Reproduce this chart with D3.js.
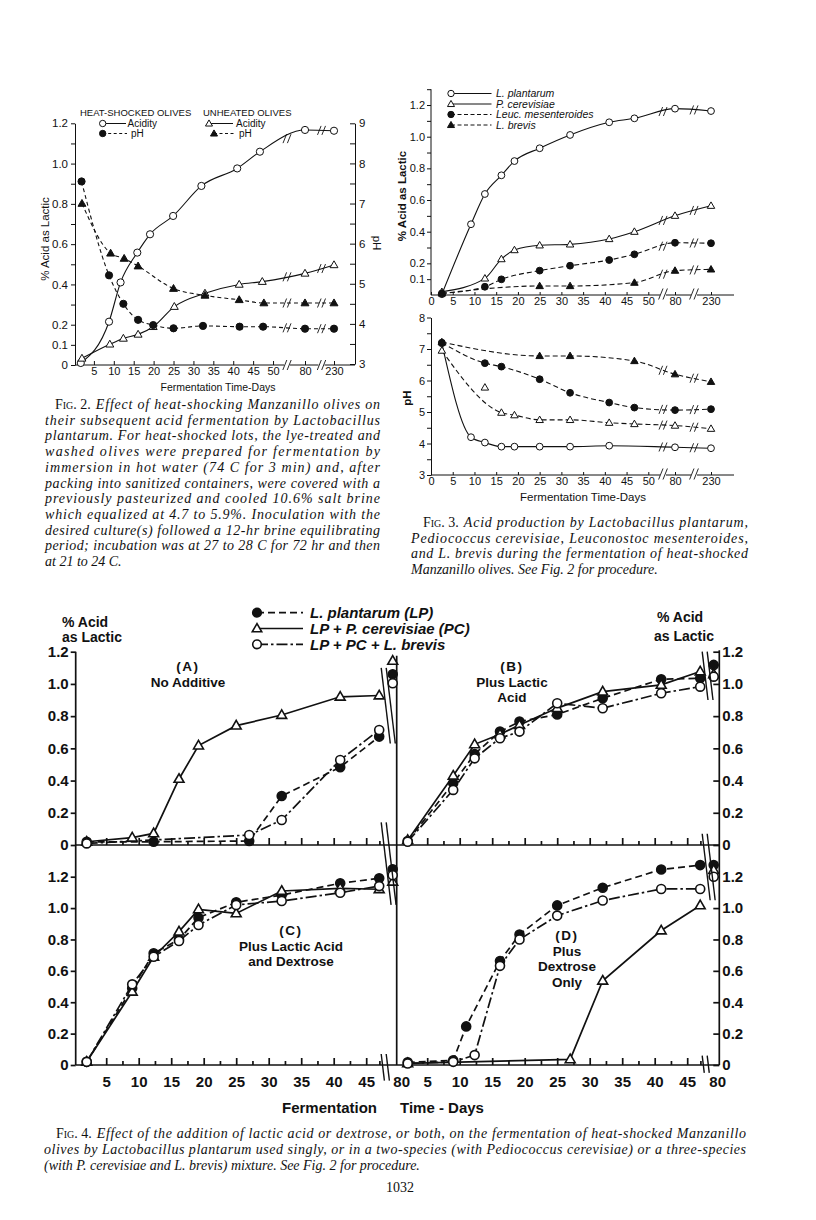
<!DOCTYPE html>
<html>
<head>
<meta charset="utf-8">
<title>Figs 2-4, heat-shocked olives</title>
<script src="https://cdn.jsdelivr.net/npm/d3@7"></script>
<style>
  body { margin: 0; background: #fff; }
</style>
</head>
<body>
<svg id="page" width="816" height="1220"></svg>
<script>
// ---------------- Fig. 2 data ----------------
const fig2HeatAcidDays   = [1.7, 8.8, 11.7, 15.9, 19.1, 24.9, 32, 41, 46.7, 80, 230];
const fig2HeatAcid       = [0.01, 0.215, 0.41, 0.558, 0.649, 0.74, 0.889, 0.976, 1.059, 1.167, 1.163];
const fig2UnheatAcidDays = [2, 9, 12.4, 16.1, 19.9, 25.2, 32.9, 41.5, 47.3, 80, 230];
const fig2UnheatAcid     = [0.033, 0.103, 0.132, 0.152, 0.19, 0.29, 0.356, 0.40, 0.414, 0.455, 0.497];
const fig2HeatPhDays     = [1.9, 8.8, 12.4, 16.1, 19.9, 25, 32.4, 41.6, 47.5, 80, 230];
const fig2HeatPh         = [7.55, 5.21, 4.50, 4.10, 3.97, 3.89, 3.95, 3.93, 3.93, 3.88, 3.88];
const fig2UnheatPhDays   = [2, 9.2, 12.6, 16.1, 25, 32.9, 41.5, 47.7, 80, 230];
const fig2UnheatPh       = [7.0, 5.76, 5.63, 5.44, 4.88, 4.71, 4.60, 4.52, 4.52, 4.52];
const fig2AcidLabels = [0, 0.1, 0.2, 0.4, 0.6, 0.8, 1.0, 1.2];
const fig2PhLabels   = [3, 4, 5, 6, 7, 8, 9];
const fig2DayLabels  = [5, 10, 15, 20, 25, 30, 35, 40, 45, 50, 80, 230];

// ---------------- Fig. 3 data ----------------
const fig3Days    = [2.5, 9.2, 12.4, 16.2, 19.2, 25, 32, 41, 46.8, 80, 230];
const fig3LpAcid  = [0.005, 0.447, 0.638, 0.756, 0.846, 0.927, 1.011, 1.091, 1.116, 1.177, 1.162];
const fig3PcAcid  = [0.02, null, 0.105, 0.227, 0.284, 0.314, 0.32, 0.354, 0.40, 0.501, 0.564];
const fig3LmAcid  = [0.01, null, 0.052, 0.099, null, 0.154, 0.185, 0.221, 0.257, 0.33, 0.327];
const fig3LbAcid  = [0.01, null, null, null, null, 0.057, 0.057, null, 0.078, 0.154, 0.162];
const fig3LpPh    = [7.18, 4.2, 4.03, 3.9, 3.9, 3.9, 3.9, 3.93, null, 3.88, 3.85];
const fig3PcPh    = [6.95, null, 5.78, 4.98, 4.9, 4.75, 4.75, 4.66, 4.62, 4.57, 4.47];
const fig3LmPh    = [7.2, null, 6.55, 6.44, null, 6.04, 5.61, 5.3, 5.14, 5.06, 5.09];
const fig3LbPh    = [7.22, null, null, null, null, 6.78, 6.78, null, 6.62, 6.2, 5.96];
const fig3PcPhOffCurve = [12.4];   // plotted point the fitted curve does not pass through
const fig3AcidLabels = [0.1, 0.2, 0.4, 0.6, 0.8, 1.0, 1.2];
const fig3PhLabels   = [3, 4, 5, 6, 7, 8];
const fig3DayLabels  = [0, 5, 10, 15, 20, 25, 30, 35, 40, 45, 50, 80, 230];
const fig3Names = ['L. plantarum', 'P. cerevisiae', 'Leuc. mesenteroides', 'L. brevis'];

// ---------------- Fig. 4 data ----------------
const fig4Days = [2, 9, 11, 12.3, 16.2, 19.2, 25, 27, 32, 41, 47, 80];
const aLP  = [0.02, null, null, 0.02, null, null, null, 0.025, 0.304, 0.483, 0.673, 1.06];
const aPC  = [0.02, 0.046, null, 0.072, 0.41, 0.617, 0.741, null, 0.807, 0.92, 0.928, 1.143];
const aLPL = [0.01, null, null, null, null, null, null, 0.062, 0.155, 0.528, 0.714, 1.004];
const bLP  = [0.025, 0.383, null, 0.565, 0.704, 0.766, 0.81, null, 0.911, 1.029, 1.035, 1.118];
const bPC  = [0.03, 0.43, null, 0.625, 0.687, 0.745, 0.85, null, 0.952, 0.994, 1.077, 1.06];
const bLPL = [0.02, 0.342, null, 0.538, 0.663, 0.704, 0.88, null, 0.849, 0.942, 0.983, 1.045];
const cLP  = [0.02, 0.489, null, 0.712, 0.80, 0.939, 1.037, null, 1.083, 1.158, 1.19, 1.247];
const cPC  = [0.02, 0.467, null, 0.69, 0.85, 0.992, 0.966, null, 1.109, 1.126, 1.12, 1.168];
const cLPL = [0.02, 0.514, null, 0.69, 0.79, 0.892, 1.02, null, 1.045, 1.098, 1.14, 1.21];
const dLP  = [0.017, 0.03, 0.246, null, 0.663, 0.832, 1.017, null, 1.13, 1.246, 1.274, 1.274];
const dPC  = [0.01, null, null, null, null, null, null, 0.036, 0.537, 0.857, 1.017, 1.242];
const dLPL = [0.01, 0.02, null, 0.063, 0.632, 0.80, 0.952, null, 1.048, 1.122, 1.122, 1.20];
const fig4AcidLabels = [0, 0.2, 0.4, 0.6, 0.8, 1.0, 1.2];
const fig4DayLabels  = [5, 10, 15, 20, 25, 30, 35, 40, 45];
const fig4Names = ['L. plantarum (LP)', 'LP + P. cerevisiae (PC)', 'LP + PC + L. brevis'];

const FONT = "'Liberation Sans', Arial, sans-serif";
const SERIF = "'Liberation Serif', 'Times New Roman', serif";
const ink = '#111';
const svg = d3.select('#page');
svg.append('rect').attr('width', 816).attr('height', 1220).attr('fill', '#fff');

// marker: oc open circle, fc filled circle, ot open triangle, ft filled triangle
function mark(g, kind, x, y, s, sw) {
    if (kind === 'oc' || kind === 'fc') {
        g.append('circle').attr('cx', x).attr('cy', y).attr('r', s)
            .attr('fill', kind === 'fc' ? ink : '#fff').attr('stroke', ink).attr('stroke-width', sw);
    } else {
        const a = s * 2.2;
        g.append('path').attr('d', d3.symbol(d3.symbolTriangle, Math.sqrt(3) / 4 * a * a)())
            .attr('transform', `translate(${x},${y + 0.5})`)
            .attr('fill', kind === 'ft' ? ink : '#fff').attr('stroke', ink).attr('stroke-width', sw);
    }
}

function slash(g, x, y, h, sw) {
    [-2.2, 2.2].forEach(o => {
        g.append('line').attr('x1', x + o - h * 0.2).attr('y1', y + h / 2)
            .attr('x2', x + o + h * 0.2).attr('y2', y - h / 2)
            .attr('stroke', ink).attr('stroke-width', sw);
    });
}

// y of a polyline at pixel x (for placing break marks on the lines)
function yAt(pts, bx) {
    for (let i = 0; i < pts.length - 1; i++) {
        if (pts[i][0] <= bx && pts[i + 1][0] >= bx) {
            const t = (bx - pts[i][0]) / (pts[i + 1][0] - pts[i][0]);
            return pts[i][1] + t * (pts[i + 1][1] - pts[i][1]);
        }
    }
    return null;
}

function styleAxis(g, size, weight, sw) {
    g.attr('font-family', FONT).attr('font-size', size).attr('font-weight', weight);
    g.selectAll('line').attr('stroke', ink).attr('stroke-width', sw);
    g.selectAll('path.domain').attr('stroke', ink).attr('stroke-width', sw);
    g.selectAll('text').attr('fill', ink);
}

// smooth curve + markers, returns pixel points
function curveSeries(g, xs, ys, days, vals, kind, dash, opt) {
    const pts = [], linePts = [];
    days.forEach((d, i) => {
        if (vals[i] == null) return;
        const p = [xs(d), ys(vals[i])];
        pts.push(p);
        if (!(opt.skip || []).includes(d)) linePts.push(p);
    });
    g.append('path').attr('d', d3.line().curve(d3.curveMonotoneX)(linePts))
        .attr('fill', 'none').attr('stroke', ink).attr('stroke-width', opt.sw)
        .attr('stroke-dasharray', dash);
    opt.breaks.forEach(bx => {
        const y = yAt(linePts, bx);
        if (y != null) slash(g, bx, y, 9, 0.9);
    });
    pts.forEach(p => mark(opt.marks, kind, p[0], p[1], opt.r, 1));
    return pts;
}

// =============== FIG. 2 ===============
(function () {
    const g = svg.append('g');
    const x2 = d3.scaleLinear().domain([0, 52, 80, 230]).range([74, 281, 305, 334]);
    const yA = d3.scaleLinear().domain([0, 1.2]).range([365, 123.3]);
    const yP = d3.scaleLinear().domain([3, 9]).range([364, 123.3]);
    const breaks = [287, 321.5];

    const left = g.append('g').attr('transform', 'translate(75,0)')
        .call(d3.axisLeft(yA).tickValues(d3.range(0, 1.25, 0.1)).tickSize(4).tickSizeOuter(0).tickPadding(3)
            .tickFormat(d => fig2AcidLabels.some(v => Math.abs(v - d) < 1e-6) ? (d === 0 ? '0' : d3.format('.1f')(d)) : ''));
    styleAxis(left, 11.5, 'normal', 1);

    const right = g.append('g').attr('transform', 'translate(355,0)')
        .call(d3.axisRight(yP).tickValues(d3.range(3, 9.01, 0.5)).tickSize(-5).tickSizeOuter(0).tickPadding(4)
            .tickFormat(d => fig2PhLabels.includes(d) ? d : ''));
    styleAxis(right, 11.5, 'normal', 1);

    const bottom = g.append('g').attr('transform', 'translate(0,365)')
        .call(d3.axisBottom(x2).tickValues(fig2DayLabels).tickSize(-4).tickSizeOuter(0));
    bottom.select('.domain').remove();
    styleAxis(bottom, 11, 'normal', 1);
    bottom.selectAll('text').attr('y', 9.5).attr('dy', null);
    [[75, breaks[0] - 3], [breaks[0] + 3, breaks[1] - 3], [breaks[1] + 3, 355]].forEach(s => {
        g.append('line').attr('x1', s[0]).attr('x2', s[1]).attr('y1', 365).attr('y2', 365)
            .attr('stroke', ink).attr('stroke-width', 1);
    });
    breaks.forEach(b => slash(g, b, 365, 10, 0.9));

    const lines = g.append('g'), marks = g.append('g');
    const opt = { sw: 1.1, r: 3.6, breaks: breaks, marks: marks };
    curveSeries(lines, x2, yA, fig2HeatAcidDays, fig2HeatAcid, 'oc', null, opt);
    curveSeries(lines, x2, yA, fig2UnheatAcidDays, fig2UnheatAcid, 'ot', null, opt);
    curveSeries(lines, x2, yP, fig2HeatPhDays, fig2HeatPh, 'fc', '4,3', opt);
    curveSeries(lines, x2, yP, fig2UnheatPhDays, fig2UnheatPh, 'ft', '4,3', opt);

    // legend
    const lg = g.append('g').attr('font-family', FONT).attr('font-size', 9.5).attr('fill', ink);
    lg.append('text').attr('x', 80).attr('y', 116).text('HEAT-SHOCKED OLIVES');
    lg.append('text').attr('x', 203).attr('y', 116).text('UNHEATED OLIVES');
    const rows = [
        { kind: 'oc', x: 102.7, y: 123.5, x2: 126, dash: null, label: 'Acidity', tx: 127.5 },
        { kind: 'fc', x: 102.7, y: 133.5, x2: 127, dash: '3,2.5', label: 'pH', tx: 131 },
        { kind: 'ot', x: 209, y: 123.5, x2: 233, dash: null, label: 'Acidity', tx: 236 },
        { kind: 'ft', x: 214, y: 133.5, x2: 236, dash: '3,2.5', label: 'pH', tx: 239 }
    ];
    rows.forEach(r => {
        lg.append('line').attr('x1', r.x).attr('x2', r.x2).attr('y1', r.y).attr('y2', r.y)
            .attr('stroke', ink).attr('stroke-width', 1).attr('stroke-dasharray', r.dash);
        mark(lg, r.kind, r.x, r.y, 3.2, 1);
        lg.append('text').attr('x', r.tx).attr('y', r.y + 3.5).attr('font-size', 10).text(r.label);
    });

    const lab = g.append('g').attr('font-family', FONT).attr('font-size', 11.5).attr('fill', ink);
    lab.append('text').attr('transform', 'translate(49,239) rotate(-90)').attr('text-anchor', 'middle')
        .text('% Acid as Lactic');
    lab.append('text').attr('transform', 'translate(373,243) rotate(90)').attr('text-anchor', 'middle')
        .text('pH');
    lab.append('text').attr('x', 218).attr('y', 390.5).attr('text-anchor', 'middle').attr('font-size', 10.5)
        .text('Fermentation Time-Days');
})();

// =============== FIG. 3 ===============
(function () {
    const g = svg.append('g');
    const x3 = d3.scaleLinear().domain([0, 52, 80, 230]).range([431, 657, 675, 711]);
    const yA = d3.scaleLinear().domain([0, 1.3]).range([295, 89.2]);
    const yP = d3.scaleLinear().domain([3, 8]).range([475, 317.5]);
    const breaks = [663, 694];

    const left = g.append('g').attr('transform', 'translate(431,0)')
        .call(d3.axisLeft(yA).tickValues(d3.range(0.1, 1.35, 0.1)).tickSize(4).tickSizeOuter(0).tickPadding(2)
            .tickFormat(d => fig3AcidLabels.some(v => Math.abs(v - d) < 1e-6) ? d3.format('.1f')(d) : ''));
    styleAxis(left, 11, 'normal', 1);
    left.select('.domain').attr('d', `M0,${yA(0)}V${yA(1.3)}`);

    const leftP = g.append('g').attr('transform', 'translate(431,0)')
        .call(d3.axisLeft(yP).tickValues(d3.range(3, 8.01, 0.5)).tickSize(4).tickSizeOuter(0).tickPadding(2)
            .tickFormat(d => fig3PhLabels.includes(d) ? d : ''));
    styleAxis(leftP, 11, 'normal', 1);

    [295, 475].forEach(yy => {
        const b = g.append('g').attr('transform', `translate(0,${yy})`)
            .call(d3.axisBottom(x3).tickValues(fig3DayLabels).tickSize(-3).tickSizeOuter(0));
        b.select('.domain').remove();
        styleAxis(b, 11, 'normal', 1);
        b.selectAll('text').attr('y', 10).attr('dy', null);
        [[431, breaks[0] - 3], [breaks[0] + 3, breaks[1] - 3], [breaks[1] + 3, 734]].forEach(s => {
            g.append('line').attr('x1', s[0]).attr('x2', s[1]).attr('y1', yy).attr('y2', yy)
                .attr('stroke', ink).attr('stroke-width', 1);
        });
        breaks.forEach(bx => slash(g, bx, yy - 1, 11, 0.9));
    });

    const lines = g.append('g'), marks = g.append('g');
    const opt = { sw: 1.1, r: 3.4, breaks: breaks, marks: marks };
    const kinds = ['oc', 'ot', 'fc', 'ft'];
    const dashes = [null, null, '5,3', '5,3'];
    [fig3LpAcid, fig3PcAcid, fig3LmAcid, fig3LbAcid].forEach((v, i) =>
        curveSeries(lines, x3, yA, fig3Days, v, kinds[i], dashes[i], opt));
    curveSeries(lines, x3, yP, fig3Days, fig3LpPh, 'oc', null, opt);
    curveSeries(lines, x3, yP, fig3Days, fig3PcPh, 'ot', '5,3', Object.assign({}, opt, { skip: fig3PcPhOffCurve }));
    curveSeries(lines, x3, yP, fig3Days, fig3LmPh, 'fc', '5,3', opt);
    curveSeries(lines, x3, yP, fig3Days, fig3LbPh, 'ft', '5,3', opt);

    // legend
    const lg = g.append('g').attr('font-family', FONT).attr('font-size', 10.5).attr('font-style', 'italic').attr('fill', ink);
    fig3Names.forEach((n, i) => {
        const y = 93.5 + i * 10.5;
        lg.append('line').attr('x1', 451).attr('x2', 491.5).attr('y1', y).attr('y2', y)
            .attr('stroke', ink).attr('stroke-width', 1).attr('stroke-dasharray', dashes[i] ? '4,2.5' : null);
        mark(lg, kinds[i], 451, y, 3.2, 1);
        lg.append('text').attr('x', 496).attr('y', y + 3.5).text(n);
    });

    const lab = g.append('g').attr('font-family', FONT).attr('font-size', 11.5).attr('font-weight', 'bold').attr('fill', ink);
    lab.append('text').attr('transform', 'translate(406,196) rotate(-90)').attr('text-anchor', 'middle')
        .text('% Acid as Lactic');
    lab.append('text').attr('transform', 'translate(411,398) rotate(-90)').attr('text-anchor', 'middle')
        .text('pH');
    lab.append('text').attr('x', 583).attr('y', 500.5).attr('text-anchor', 'middle').attr('font-weight', 'normal')
        .attr('font-size', 11.5).text('Fermentation Time-Days');
})();

// =============== FIG. 4 ===============
(function () {
    const g = svg.append('g');
    const colX = [75.7, 396.7];
    const rightX = 719.3;
    const x4 = d3.scaleLinear().domain([0, 47, 80]).range([-2, 303.5, 317]);
    const rowY = [
        d3.scaleLinear().domain([0, 1.2]).range([845, 651.7]),
        d3.scaleLinear().domain([0, 1.2]).range([1065, 876.7])
    ];
    const panels = [
        { col: 0, row: 0, LP: aLP, PC: aPC, LPL: aLPL, title: ['(A)', 'No Additive'], tx: 188, ty: 671, lab80: 9 },
        { col: 1, row: 0, LP: bLP, PC: bPC, LPL: bLPL, title: ['(B)', 'Plus Lactic', 'Acid'], tx: 512, ty: 671, lab80: 4 },
        { col: 0, row: 1, LP: cLP, PC: cPC, LPL: cLPL, title: ['(C)', 'Plus Lactic Acid', 'and Dextrose'], tx: 291, ty: 935, lab80: 9 },
        { col: 1, row: 1, LP: dLP, PC: dPC, LPL: dLPL, title: ['(D)', 'Plus', 'Dextrose', 'Only'], tx: 567, ty: 940, lab80: 4 }
    ];
    const sw = 1.7;
    const styles = {
        LP:  { kind: 'fc', dash: '7,4' },
        PC:  { kind: 'ot', dash: null },
        LPL: { kind: 'oc', dash: '11,3,2.5,3' }
    };

    // frame lines
    const yTop = rowY[0](1.2), yBot = rowY[1](0);
    [[colX[0], yTop], [colX[1], yTop + 4], [rightX, rowY[0](1.2) - 1.5]].forEach(([x, y0]) => {
        g.append('line').attr('x1', x).attr('x2', x).attr('y1', y0).attr('y2', yBot)
            .attr('stroke', ink).attr('stroke-width', sw);
    });
    [rowY[0](0), rowY[1](0)].forEach(y => {
        g.append('line').attr('x1', colX[0]).attr('x2', rightX).attr('y1', y).attr('y2', y)
            .attr('stroke', ink).attr('stroke-width', sw);
    });

    // y axes
    rowY.forEach((ys) => {
        const la = g.append('g').attr('transform', `translate(${colX[0]},0)`)
            .call(d3.axisLeft(ys).tickValues(fig4AcidLabels).tickSize(5).tickSizeOuter(0).tickPadding(2)
                .tickFormat(d => d === 0 ? '0' : d3.format('.1f')(d)));
        la.select('.domain').remove();
        styleAxis(la, 15, 'bold', sw);
        const ra = g.append('g').attr('transform', `translate(${rightX},0)`)
            .call(d3.axisRight(ys).tickValues(fig4AcidLabels).tickSize(-6).tickSizeOuter(0).tickPadding(3)
                .tickFormat(d => d === 0 ? '0' : d3.format('.1f')(d)));
        ra.select('.domain').remove();
        styleAxis(ra, 15, 'bold', sw);
    });

    panels.forEach(p => {
        const pg = g.append('g').attr('transform', `translate(${colX[p.col]},0)`);
        const ys = rowY[p.row];
        // x ticks every 2.5 days
        const xa = pg.append('g').attr('transform', `translate(0,${ys(0)})`)
            .call(d3.axisBottom(x4).tickValues(d3.range(2.5, 47.6, 2.5)).tickSize(-7).tickSizeOuter(0)
                .tickFormat(d => (p.row === 1 && d % 5 === 0) ? d : ''));
        xa.select('.domain').remove();
        styleAxis(xa, 15, 'bold', sw);
        xa.selectAll('.tick').filter(d => d % 5 !== 0).select('line').attr('y2', -4);
        xa.selectAll('text').attr('y', 21.5).attr('dy', null);
        if (p.row === 1) {
            pg.append('text').attr('x', x4(80) + p.lab80).attr('y', ys(0) + 21.5).attr('text-anchor', 'middle')
                .attr('font-family', FONT).attr('font-size', 15).attr('font-weight', 'bold').attr('fill', ink)
                .text('80');
        }
        const lines = pg.append('g'), marks = pg.append('g');
        ['LP', 'PC', 'LPL'].forEach(key => {
            const vals = p[key];
            const pts = [];
            fig4Days.forEach((d, i) => { if (vals[i] != null) pts.push([x4(d), ys(vals[i]), d]); });
            const linePts = pts.filter(q => q[2] < 60).map(q => [q[0], q[1]]);
            lines.append('path').attr('d', d3.line()(linePts))
                .attr('fill', 'none').attr('stroke', ink).attr('stroke-width', sw)
                .attr('stroke-dasharray', styles[key].dash);
            pts.forEach(q => mark(marks, styles[key].kind, q[0], q[1], 4.5, 1.6));
        });
        const tg = pg.append('g').attr('font-family', FONT).attr('font-size', 13.5).attr('font-weight', 'bold')
            .attr('fill', ink).attr('text-anchor', 'middle');
        p.title.forEach((t, i) => {
            tg.append('text').attr('x', p.tx - colX[p.col]).attr('y', p.ty + i * 15.5)
                .attr('letter-spacing', i === 0 ? 1.5 : 0).text(t);
        });
    });

    // break marks through the frame
    const spans = [
        [0, rowY[0](1.1), rowY[0](0.63)], [0, rowY[0](0.14), rowY[1](1.02)], [0, rowY[1](0.07), rowY[1](-0.1)],
        [1, rowY[0](1.2), rowY[0](0.9)], [1, rowY[0](0.07), rowY[1](1.05)], [1, rowY[1](0.06), rowY[1](-0.05)]
    ];
    spans.forEach(([c, y0, y1]) => {
        const bx = colX[c] + x4(47) + 2;
        [0, 5].forEach(o => {
            g.append('line').attr('x1', bx + o).attr('y1', y0).attr('x2', bx + o + (y1 - y0) * 0.12).attr('y2', y1)
                .attr('stroke', ink).attr('stroke-width', 1.4);
        });
    });

    // legend
    const lg = g.append('g');
    ['LP', 'PC', 'LPL'].forEach((k, i) => {
        const y = 612.7 + i * 15.8;
        lg.append('line').attr('x1', 257).attr('x2', 303).attr('y1', y).attr('y2', y)
            .attr('stroke', ink).attr('stroke-width', sw).attr('stroke-dasharray', styles[k].dash);
        mark(lg, styles[k].kind, 257, y, 4.3, 1.6);
        lg.append('text').attr('x', 310).attr('y', y + 5.5).attr('font-family', FONT).attr('font-size', 15)
            .attr('font-weight', 'bold').attr('font-style', 'italic').attr('fill', ink).text(fig4Names[i]);
    });

    const lab = g.append('g').attr('font-family', FONT).attr('font-size', 14).attr('font-weight', 'bold').attr('fill', ink);
    lab.append('text').attr('x', 62).attr('y', 626.5).text('% Acid');
    lab.append('text').attr('x', 62).attr('y', 642).text('as Lactic');
    lab.append('text').attr('x', 657).attr('y', 621.5).text('% Acid');
    lab.append('text').attr('x', 654).attr('y', 641).text('as Lactic');
    lab.append('text').attr('x', 282).attr('y', 1113).attr('font-size', 15).text('Fermentation');
    lab.append('text').attr('x', 400).attr('y', 1113).attr('font-size', 15).text('Time - Days');
})();

// =============== captions ===============
function caption(prefix, lines, x0, x1, y0, dy, indent) {
    const g = svg.append('g').attr('font-family', SERIF).attr('font-size', 14).attr('fill', ink);
    lines.forEach((t, i) => {
        let x = x0;
        if (i === 0) {
            const p = g.append('text').attr('x', x0 + indent).attr('y', y0).style('font-variant', 'small-caps').text(prefix);
            x = x0 + indent + p.node().getComputedTextLength() + 5;
        }
        const txt = g.append('text').attr('x', x).attr('y', y0 + i * dy).attr('font-style', 'italic').text(t);
        if (i < lines.length - 1) txt.attr('textLength', x1 - x).attr('lengthAdjust', 'spacing');
    });
}

caption('Fig. 2.', [
    'Effect of heat-shocking Manzanillo olives on',
    'their subsequent acid fermentation by Lactobacillus',
    'plantarum. For heat-shocked lots, the lye-treated and',
    'washed olives were prepared for fermentation by',
    'immersion in hot water (74 C for 3 min) and, after',
    'packing into sanitized containers, were covered with a',
    'previously pasteurized and cooled 10.6% salt brine',
    'which equalized at 4.7 to 5.9%. Inoculation with the',
    'desired culture(s) followed a 12-hr brine equilibrating',
    'period; incubation was at 27 to 28 C for 72 hr and then',
    'at 21 to 24 C.'
], 45, 380, 409, 15.7, 10);

caption('Fig. 3.', [
    'Acid production by Lactobacillus plantarum,',
    'Pediococcus cerevisiae, Leuconostoc mesenteroides,',
    'and L. brevis during the fermentation of heat-shocked',
    'Manzanillo olives. See Fig. 2 for procedure.'
], 411, 748, 527, 15.7, 12);

caption('Fig. 4.', [
    'Effect of the addition of lactic acid or dextrose, or both, on the fermentation of heat-shocked Manzanillo',
    'olives by Lactobacillus plantarum used singly, or in a two-species (with Pediococcus cerevisiae) or a three-species',
    '(with P. cerevisiae and L. brevis) mixture. See Fig. 2 for procedure.'
], 44, 746, 1138, 16, 12);

svg.append('text').attr('x', 400).attr('y', 1192).attr('text-anchor', 'middle')
    .attr('font-family', SERIF).attr('font-size', 14).attr('fill', ink).text('1032');
</script>
</body>
</html>
